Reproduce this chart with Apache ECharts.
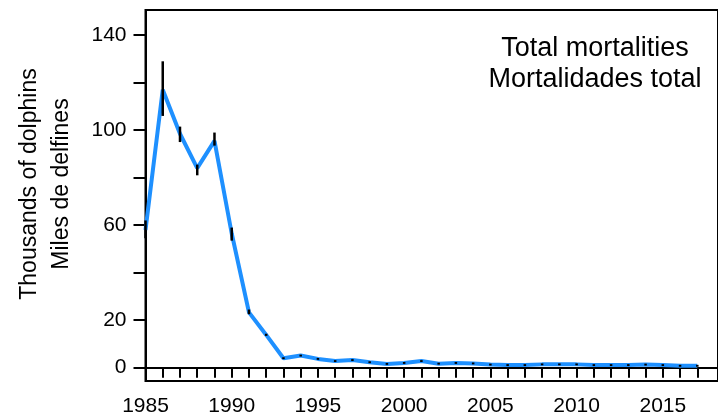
<!DOCTYPE html>
<html>
<head>
<meta charset="utf-8">
<script src="https://cdn.jsdelivr.net/npm/echarts@6/dist/echarts.min.js"></script>
<style>
html,body{margin:0;padding:0;background:#fff;}
#chart{width:718px;height:419px;}
</style>
</head>
<body>
<div id="chart"></div>
<script>
// Data (thousands of dolphins)
var years = [1985,1986,1987,1988,1989,1990,1991,1992,1993,1994,1995,1996,1997,1998,1999,2000,2001,2002,2003,2004,2005,2006,2007,2008,2009,2010,2011,2012,2013,2014,2015,2016,2017];
var mortality = [58,117,98.5,84,95.5,56.5,23.3,13.8,4.0,5.1,3.7,2.8,3.2,2.3,1.6,2.0,2.8,1.7,2.0,1.8,1.3,1.1,1.1,1.4,1.4,1.4,1.1,1.1,1.1,1.3,1.1,0.8,0.8];
var lower = [54.5,106,95,81,93.5,53.5,22.5,13.4,3.6,4.7,3.3,2.4,2.8,1.9,1.2,1.6,2.4,1.3,1.6,1.4,0.9,0.7,0.7,1.0,1.0,1.0,0.7,0.7,0.7,0.9,0.7,0.4,0.4];
var upper = [62,129,101.5,85.5,99,59,24.5,14.3,4.4,5.5,4.1,3.2,3.6,2.7,2.0,2.4,3.2,2.1,2.4,2.2,1.7,1.5,1.5,1.8,1.8,1.8,1.5,1.5,1.5,1.7,1.5,1.2,1.2];
var yTicks = [0,20,40,60,80,100,120,140];
var yLabels = [0,20,60,100,140];
var xTicks = years.slice();
var xLabels = [1985,1990,1995,2000,2005,2010,2015];
var titleLines = ['Total mortalities','Mortalidades total'];
var yTitleLines = ['Thousands of dolphins','Miles de delfines'];

var lineData = years.map(function(y,i){return [y, mortality[i]];});
var errData = years.map(function(y,i){return [y, lower[i], upper[i]];});

var chart = echarts.init(document.getElementById('chart'));
var font = 'Liberation Sans, Arial, sans-serif';
chart.setOption({
  animation:false,
  backgroundColor:'#fff',
  grid:{left:145.5, top:10, right:-3, bottom:38, show:true, borderColor:'#000', borderWidth:2, containLabel:false},
  xAxis:{
    type:'value', min:1985, max:2018.2,
    axisLine:{show:true, lineStyle:{color:'#000', width:2}},
    axisTick:{show:true, length:10, lineStyle:{color:'#000', width:2}, customValues:xTicks},
    axisLabel:{show:true, customValues:xLabels, color:'#000', fontSize:21, fontFamily:font, margin:15,
      formatter:function(v){return String(Math.round(v));}},
    splitLine:{show:false}
  },
  yAxis:{
    type:'value', min:-5.6, max:150.6,
    axisLine:{show:true, lineStyle:{color:'#000', width:2}},
    axisTick:{show:true, length:12, lineStyle:{color:'#000', width:2}, customValues:yTicks},
    axisLabel:{show:true, customValues:yLabels, color:'#000', fontSize:21, fontFamily:font, margin:19,
      formatter:function(v){return String(Math.round(v));}},
    splitLine:{show:false}
  },
  graphic:[
    {type:'text', x:595, y:64, style:{text:titleLines.join('\n'), fill:'#000', font:'27px '+font, textAlign:'center', textVerticalAlign:'middle', lineHeight:31}},
    {type:'text', x:46, y:184, rotation:Math.PI/2, style:{text:yTitleLines.join('\n'), fill:'#000', font:'23px '+font, textAlign:'center', textVerticalAlign:'middle', lineHeight:32}}
  ],
  series:[
    {type:'line', data:lineData, symbol:'none', lineStyle:{color:'#1e90ff', width:4}, z:2},
    {type:'custom', data:errData, z:3,
     renderItem:function(params, api){
       var x = api.value(0);
       var p1 = api.coord([x, api.value(1)]);
       var p2 = api.coord([x, api.value(2)]);
       return {type:'line', shape:{x1:p1[0], y1:p1[1], x2:p2[0], y2:p2[1]}, style:{stroke:'#000', lineWidth:2.5}};
     },
     encode:{x:0, y:[1,2]}
    }
  ]
});
</script>
</body>
</html>
